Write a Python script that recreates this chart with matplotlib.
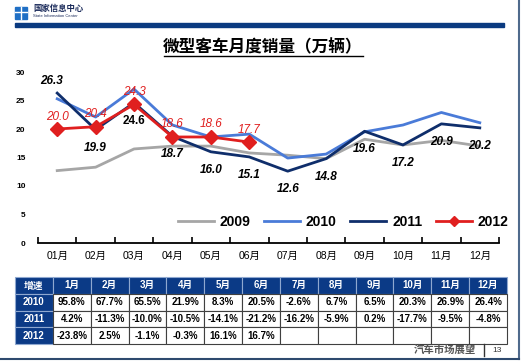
import matplotlib
matplotlib.use("Agg")
import matplotlib.pyplot as plt
from matplotlib.patches import Rectangle
from matplotlib.lines import Line2D

plt.rcParams['font.family'] = ['Liberation Sans', 'Noto Sans CJK SC', 'DejaVu Sans']

# data
months = ["01月", "02月", "03月", "04月", "05月", "06月", "07月", "08月", "09月", "10月", "11月", "12月"]
sales_2009 = [12.7, 13.3, 16.5, 17.0, 17.0, 15.8, 15.4, 14.8, 18.2, 17.2, 18.0, 17.0]
sales_2010 = [25.3, 22.1, 27.0, 20.7, 18.6, 19.1, 14.9, 15.6, 19.5, 20.7, 22.9, 21.1]
sales_2011 = [26.3, 19.9, 24.6, 18.7, 16.0, 15.1, 12.6, 14.8, 19.6, 17.2, 20.9, 20.2]
sales_2012 = [20.0, 20.4, 24.3, 18.6, 18.6, 17.7]

table_header = ["增速", "1月", "2月", "3月", "4月", "5月", "6月", "7月", "8月", "9月", "10月", "11月", "12月"]
growth_2010 = ["95.8%", "67.7%", "65.5%", "21.9%", "8.3%", "20.5%", "-2.6%", "6.7%", "6.5%", "20.3%", "26.9%", "26.4%"]
growth_2011 = ["4.2%", "-11.3%", "-10.0%", "-10.5%", "-14.1%", "-21.2%", "-16.2%", "-5.9%", "0.2%", "-17.7%", "-9.5%", "-4.8%"]
growth_2012 = ["-23.8%", "2.5%", "-1.1%", "-0.3%", "16.1%", "16.7%", "", "", "", "", "", ""]

navy = "#0B3A86"
W, H = 522, 361

fig = plt.figure(figsize=(5.22, 3.61), dpi=100)

def fx(px):
    return px / W

def fy(py):
    return 1 - py / H

# slide decorations
fig.add_artist(Rectangle((fx(15), fy(27)), fx(489), 4 / H, color="#0A3A80", transform=fig.transFigure))
fig.add_artist(Line2D([fx(519), fx(519)], [fy(0), fy(359)], color="#4F6A8C", lw=1.5, transform=fig.transFigure))
fig.add_artist(Line2D([fx(0), fx(519)], [fy(359), fy(359)], color="#2E4A6E", lw=1.5, transform=fig.transFigure))
# logo
fig.add_artist(Rectangle((fx(15), fy(19)), fx(12), 12 / H, color="#1F6FC5", transform=fig.transFigure))
fig.add_artist(Line2D([fx(15), fx(27)], [fy(12), fy(12)], color="white", lw=1, transform=fig.transFigure))
fig.add_artist(Line2D([fx(21), fx(21)], [fy(7), fy(19)], color="white", lw=1, transform=fig.transFigure))
fig.text(fx(33), fy(9), "国家信息中心", fontsize=6, fontweight="bold", color="#1A2A5A", va="center")
fig.text(fx(33), fy(16), "State Information Center", fontsize=3, color="#1A2A5A", va="center")

# title
fig.text(fx(263), fy(47), "微型客车月度销量（万辆）", fontsize=12, fontweight="heavy", ha="center", va="center")
fig.add_artist(Line2D([fx(164), fx(363)], [fy(56), fy(56)], color="black", lw=1, transform=fig.transFigure))

# footer
fig.text(fx(476), fy(350), "汽车市场展望", fontsize=7.5, fontweight="bold", color="#555555", ha="right", va="center")
fig.add_artist(Line2D([fx(484), fx(484)], [fy(344), fy(356)], color="#333333", lw=1, transform=fig.transFigure))
fig.text(fx(497), fy(350), "13", fontsize=6, color="#333333", ha="center", va="center")

# line chart
ax = fig.add_axes([fx(38), fy(243), fx(461), (243 - 72) / H])
x = list(range(len(months)))
ax.plot(x, sales_2009, color="#A6A6A6", lw=2, label="2009")
ax.plot(x, sales_2010, color="#4A7BD8", lw=2, label="2010")
ax.plot(x, sales_2011, color="#0F2E6B", lw=2, label="2011")
ax.plot(x[:len(sales_2012)], sales_2012, color="#E01F1F", lw=2, marker="D", markersize=7, label="2012")

for i, v in enumerate(sales_2011):
    if i == 0:
        ax.annotate(f"{v:.1f}", (i, v), xytext=(-4, 9), textcoords="offset points", ha="center", va="center",
                    fontsize=8.5, fontweight="bold", style="italic")
    else:
        ax.annotate(f"{v:.1f}", (i, v), xytext=(0, -13), textcoords="offset points", ha="center", va="center",
                    fontsize=8.5, fontweight="bold", style="normal" if i == 2 else "italic")
for i, v in enumerate(sales_2012):
    ax.annotate(f"{v:.1f}", (i, v), xytext=(0, 9), textcoords="offset points", ha="center", va="center",
                fontsize=8.5, style="italic", color="#E01F1F")

ax.set_xlim(-0.5, 11.5)
ax.set_ylim(0, 30)
ax.set_yticks([0, 5, 10, 15, 20, 25, 30])
ax.set_xticks(x)
ax.set_xticklabels(months, fontsize=7.5)
ax.set_xticks([i - 0.5 for i in range(13)], minor=True)
ax.tick_params(axis="x", which="major", length=0, pad=6)
ax.tick_params(axis="x", which="minor", length=4, width=1.2, direction="in")
ax.tick_params(axis="y", length=0, labelsize=6, pad=9)
for lbl in ax.get_yticklabels():
    lbl.set_fontweight("bold")
for s in ["top", "right", "left"]:
    ax.spines[s].set_visible(False)
ax.spines["bottom"].set_linewidth(1.3)

ax.legend(ncol=4, loc="center", bbox_to_anchor=(fx(343 - 38) / fx(461), (243 - 222) / (243 - 72)),
          frameon=False, prop={"size": 10, "weight": "bold"}, handlelength=2.6, columnspacing=1.0,
          handletextpad=0.4, markerscale=0.7)

# growth table
tax = fig.add_axes([fx(15), fy(344), fx(492), (344 - 277) / H])
tax.axis("off")
cells = [table_header,
         ["2010"] + growth_2010,
         ["2011"] + growth_2011,
         ["2012"] + growth_2012]
tbl = tax.table(cellText=cells, bbox=[0, 0, 1, 1], cellLoc="center")
tbl.auto_set_font_size(False)
for (r, c), cell in tbl.get_celld().items():
    cell.get_text().set_fontsize(7)
    cell.get_text().set_fontweight("bold")
    if r == 0 or c == 0:
        cell.set_facecolor(navy)
        cell.get_text().set_color("white")
        cell.set_edgecolor("#8FA8D0")
    else:
        cell.set_facecolor("white")
        cell.set_edgecolor("#404040")
    cell.set_linewidth(0.8)

fig.savefig("out.png", dpi=100)
